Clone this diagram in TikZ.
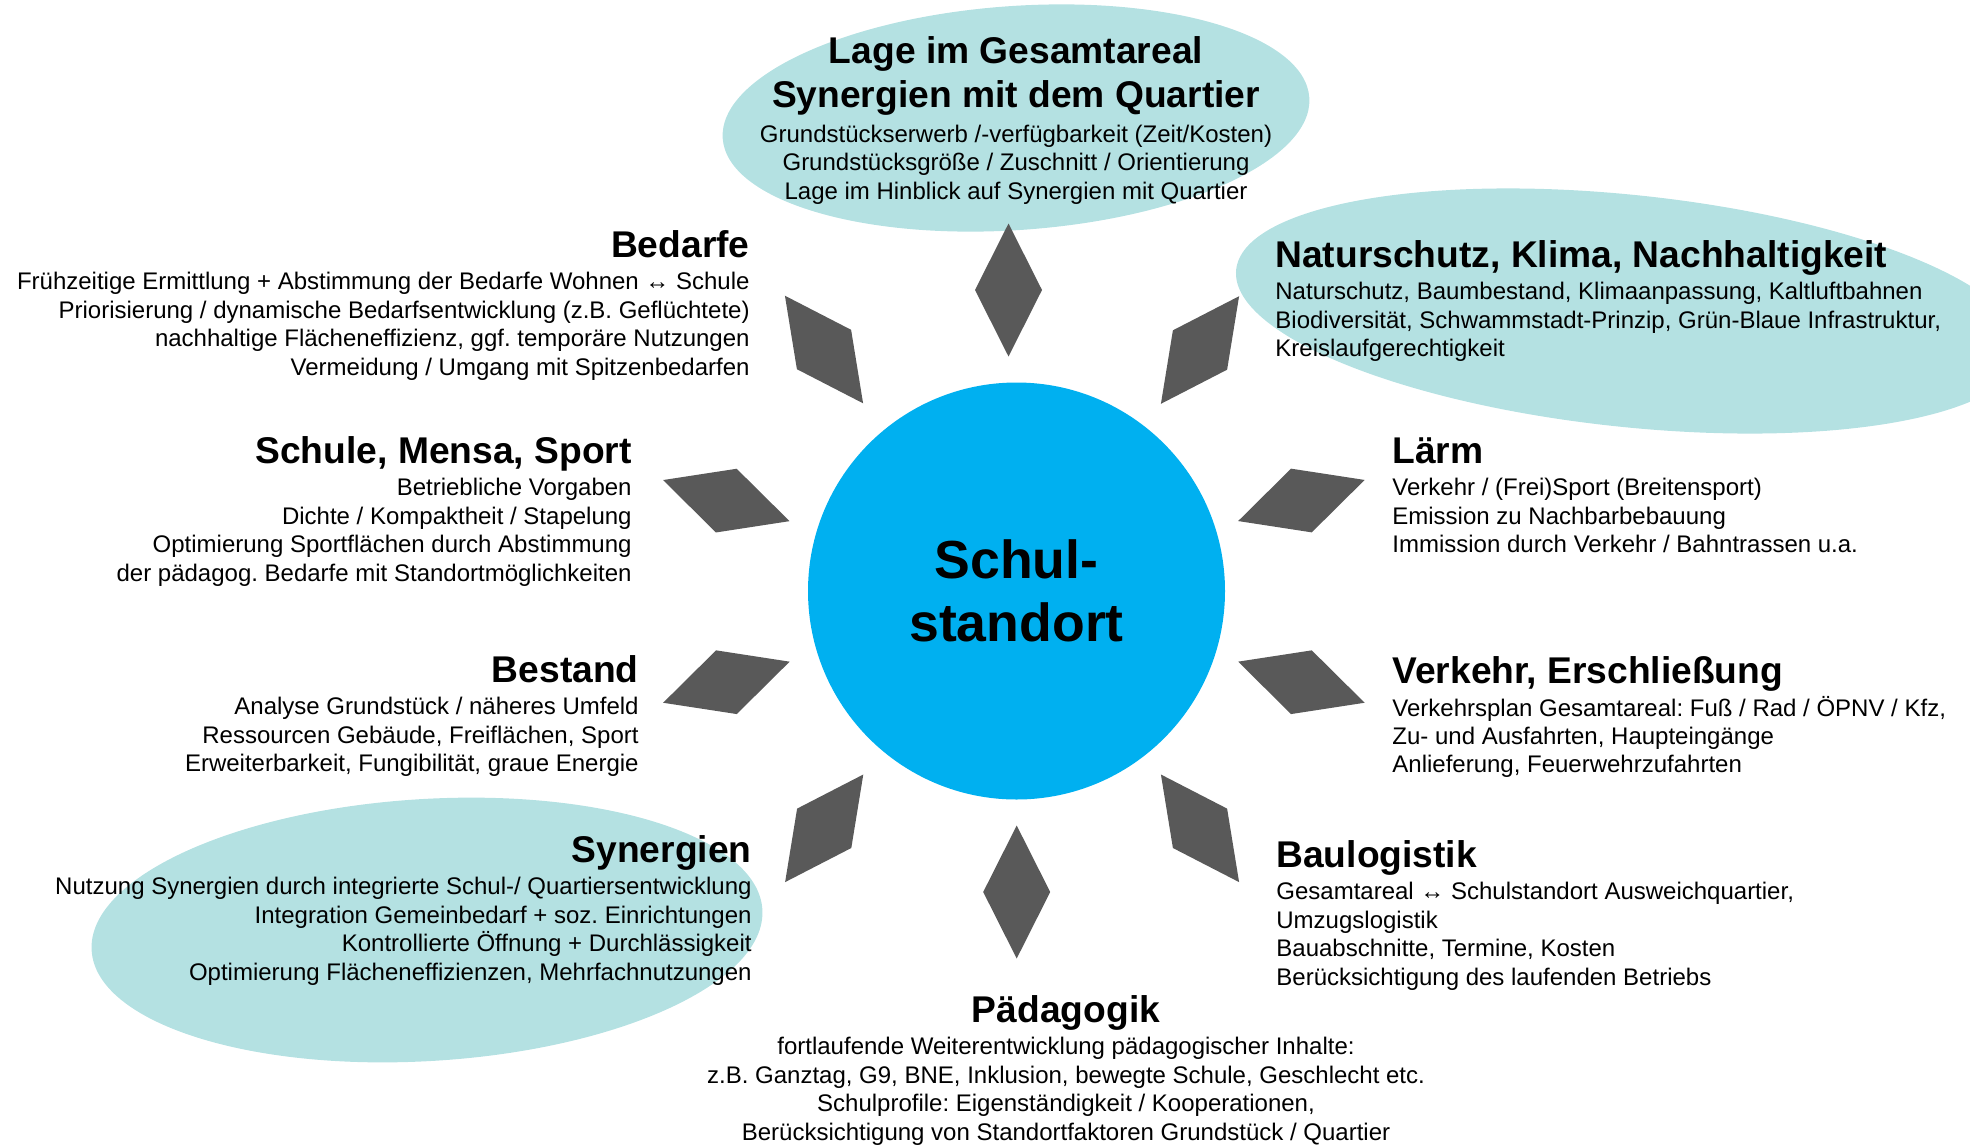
\documentclass[tikz,border=0pt]{standalone}
\usepackage{fontspec}
\setmainfont{Liberation Sans}
\usetikzlibrary{positioning}

\definecolor{schulblau}{HTML}{00B0F0}
\definecolor{tuerkis}{HTML}{B4E1E2}
\definecolor{rautegrau}{HTML}{595959}

\newcommand{\kopffont}{\bfseries\fontsize{18.6pt}{22pt}\selectfont}
\newcommand{\listfont}{\frenchspacing\fontsize{12pt}{14.2pt}\selectfont}

\begin{document}
\begin{tikzpicture}[x=0.5pt, y=-0.5pt,
    titel/.style={font=\kopffont, inner sep=0pt},
    liste/.style={font=\listfont, inner sep=0pt},
    raute/.style={fill=rautegrau},
    wolke/.style={fill=tuerkis},
    mitte/.style={circle, fill=schulblau, minimum size=208.5pt, inner sep=0pt, align=center, font=\bfseries\fontsize{26.8pt}{31.5pt}\selectfont}]
    \useasboundingbox (0,0) rectangle (1970,1146);
    \clip (0,0) rectangle (1970,1146);
    % ellipses
    \fill[wolke, rotate around={4:(1016,118)}] (1016,118) ellipse [x radius=294, y radius=112];
    \fill[wolke, rotate around={-6:(1629,311)}] (1629,311) ellipse [x radius=395, y radius=116];
    \fill[wolke, rotate around={3.5:(427,930)}] (427,930) ellipse [x radius=336, y radius=131];
    % centre
    \node[mitte] (standort) at (1016.5,591) {Schul-\\standort};
    % diamonds
    \foreach \cx/\cy/\w in {1008.5/290/90, 1200/350/-54, 1301.4/500.5/-18, 1301.4/682.2/18, 1200/828.3/54,
                            1016.7/892/90, 824.2/828.3/-54, 726.4/682.2/-18, 726.3/500.6/18, 824/349.5/54}
        \fill[raute] (\cx,\cy) +(\w:66.5) -- +(\w+90:33.5) -- +(\w+180:66.5) -- +(\w-90:33.5) -- cycle;
    % top
    \node[titel, align=center, anchor=north] (lage) at (1016,32.2) {\strut Lage im Gesamtareal\\\strut Synergien mit dem Quartier};
    \node[liste, align=center, below=0.5pt of lage] (lage-t) {\strut Grundstückserwerb /-verfügbarkeit (Zeit/Kosten)\\Grundstücksgröße / Zuschnitt / Orientierung\\Lage im Hinblick auf Synergien mit Quartier};
    % left side
    \node[titel, anchor=base east] (bedarfe) at (750,257) {Bedarfe};
    \node[liste, align=right, below left=6.3pt and 0pt of bedarfe.base east] (bedarfe-t) {\strut Frühzeitige Ermittlung + Abstimmung der Bedarfe Wohnen ↔ Schule\\Priorisierung / dynamische Bedarfsentwicklung (z.B. Geflüchtete)\\nachhaltige Flächeneffizienz, ggf. temporäre Nutzungen\\Vermeidung / Umgang mit Spitzenbedarfen};
    \node[titel, anchor=base east] (schule) at (632,463) {Schule, Mensa, Sport};
    \node[liste, align=right, below left=6.3pt and 0pt of schule.base east] (schule-t) {\strut Betriebliche Vorgaben\\Dichte / Kompaktheit / Stapelung\\Optimierung Sportflächen durch Abstimmung\\der pädagog. Bedarfe mit Standortmöglichkeiten};
    \node[titel, anchor=base east] (bestand) at (639,682) {Bestand};
    \node[liste, align=right, below left=6.3pt and 0pt of bestand.base east] (bestand-t) {\strut Analyse Grundstück / näheres Umfeld\\Ressourcen Gebäude, Freiflächen, Sport\\Erweiterbarkeit, Fungibilität, graue Energie};
    \node[titel, anchor=base east] (synergien) at (752,862) {Synergien};
    \node[liste, align=right, below left=6.3pt and 0pt of synergien.base east] (synergien-t) {\strut Nutzung Synergien durch integrierte Schul-/ Quartiersentwicklung\\Integration Gemeinbedarf + soz. Einrichtungen\\Kontrollierte Öffnung + Durchlässigkeit\\Optimierung Flächeneffizienzen, Mehrfachnutzungen};
    % right side
    \node[titel, anchor=base west] (natur) at (1275,267) {Naturschutz, Klima, Nachhaltigkeit};
    \node[liste, align=left, below right=6.3pt and 0pt of natur.base west] (natur-t) {\strut Naturschutz, Baumbestand, Klimaanpassung, Kaltluftbahnen\\Biodiversität, Schwammstadt-Prinzip, Grün-Blaue Infrastruktur,\\Kreislaufgerechtigkeit};
    \node[titel, anchor=base west] (laerm) at (1392,463) {Lärm};
    \node[liste, align=left, below right=6.3pt and 0pt of laerm.base west] (laerm-t) {\strut Verkehr / (Frei)Sport (Breitensport)\\Emission zu Nachbarbebauung\\Immission durch Verkehr / Bahntrassen u.a.};
    \node[titel, anchor=base west] (verkehr) at (1392,683) {Verkehr, Erschließung};
    \node[liste, align=left, below right=6.3pt and 0pt of verkehr.base west] (verkehr-t) {\strut Verkehrsplan Gesamtareal: Fuß / Rad / ÖPNV / Kfz,\\Zu- und Ausfahrten, Haupteingänge\\Anlieferung, Feuerwehrzufahrten};
    \node[titel, anchor=base west] (baulogistik) at (1276,867) {Baulogistik};
    \node[liste, align=left, below right=6.3pt and 0pt of baulogistik.base west] (baulogistik-t) {\strut Gesamtareal ↔ Schulstandort Ausweichquartier,\\Umzugslogistik\\Bauabschnitte, Termine, Kosten\\Berücksichtigung des laufenden Betriebs};
    % bottom
    \node[titel, anchor=base] (paed) at (1066,1022) {Pädagogik};
    \node[liste, align=center, below=6.3pt of paed.base] (paed-t) {\strut fortlaufende Weiterentwicklung pädagogischer Inhalte:\\z.B. Ganztag, G9, BNE, Inklusion, bewegte Schule, Geschlecht etc.\\Schulprofile: Eigenständigkeit / Kooperationen,\\Berücksichtigung von Standortfaktoren Grundstück / Quartier};
\end{tikzpicture}
\end{document}
